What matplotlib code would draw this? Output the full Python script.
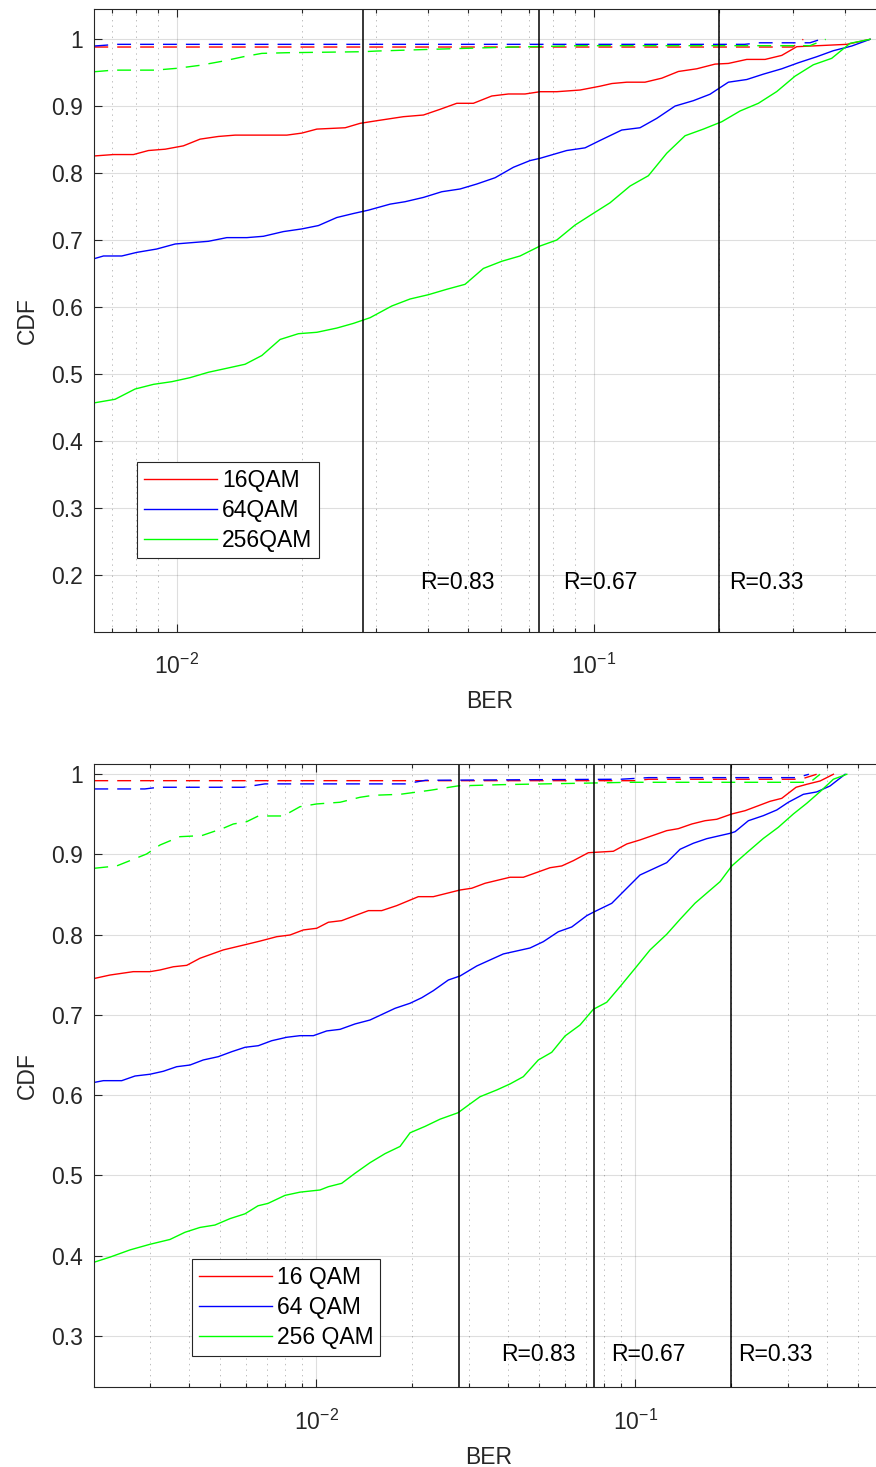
import matplotlib
matplotlib.use("Agg")
import matplotlib.pyplot as plt
from matplotlib.ticker import LogLocator, FuncFormatter, NullFormatter

plt.rcParams['font.family'] = ['Liberation Sans', 'DejaVu Sans']
plt.rcParams['mathtext.default'] = 'regular'
plt.rcParams['lines.scale_dashes'] = False

# ---------------- upper panel data ----------------
top_ber_16 = [0.00637, 0.00705, 0.00787, 0.00855, 0.00938, 0.01037, 0.01137, 0.01258, 0.0138, 0.01836,
              0.01994, 0.02167, 0.02534, 0.02752, 0.03017, 0.03494, 0.03903, 0.04279, 0.04693, 0.05144,
              0.05693, 0.06241, 0.06842, 0.07433, 0.08152, 0.0927, 0.1035, 0.1105, 0.1200, 0.1327,
              0.1456, 0.1596, 0.1766, 0.1954, 0.2103, 0.2328, 0.2576, 0.2824, 0.3068, 0.4044, 0.4599]
top_cdf_16 = [0.826, 0.828, 0.828, 0.834, 0.836, 0.841, 0.851, 0.855, 0.857, 0.857,
              0.860, 0.866, 0.868, 0.8746, 0.8785, 0.8845, 0.887, 0.8955, 0.9045, 0.9045,
              0.9154, 0.9184, 0.9184, 0.9218, 0.9218, 0.9243, 0.930, 0.934, 0.936, 0.936,
              0.942, 0.952, 0.956, 0.963, 0.964, 0.970, 0.970, 0.976, 0.989, 0.9925, 1.0]

top_ber_64 = [0.00637, 0.00667, 0.00738, 0.00802, 0.00895, 0.00991, 0.0119, 0.01318, 0.01472, 0.01613,
              0.01801, 0.01994, 0.02186, 0.02419, 0.02652, 0.02881, 0.03248, 0.03527, 0.03903, 0.04320,
              0.04779, 0.05241, 0.05799, 0.06416, 0.07033, 0.07433, 0.0861, 0.0953, 0.1035, 0.1167,
              0.1291, 0.1416, 0.1567, 0.1733, 0.1900, 0.2103, 0.2328, 0.2551, 0.2824, 0.3095,
              0.3426, 0.3755, 0.4156, 0.4599]
top_cdf_64 = [0.673, 0.6766, 0.6766, 0.682, 0.687, 0.6945, 0.6985, 0.704, 0.704, 0.706,
              0.713, 0.717, 0.722, 0.734, 0.740, 0.745, 0.754, 0.7576, 0.764, 0.7725,
              0.7766, 0.784, 0.7934, 0.809, 0.819, 0.8224, 0.834, 0.838, 0.849, 0.8646,
              0.868, 0.882, 0.9004, 0.9084, 0.918, 0.936, 0.940, 0.948, 0.956, 0.965,
              0.974, 0.983, 0.990, 1.0]

top_ber_256 = [0.00637, 0.00711, 0.00794, 0.00879, 0.00973, 0.01076, 0.01190, 0.01318, 0.01458, 0.01599,
               0.01769, 0.01957, 0.02167, 0.02419, 0.02652, 0.02908, 0.03279, 0.03626, 0.04012, 0.04441,
               0.04912, 0.05436, 0.06016, 0.06656, 0.07433, 0.08152, 0.0902, 0.0998, 0.1094, 0.1222,
               0.1352, 0.1496, 0.1656, 0.1832, 0.2028, 0.2243, 0.2482, 0.2747, 0.3039, 0.3362,
               0.3721, 0.4117, 0.4599]
top_cdf_256 = [0.4576, 0.4627, 0.478, 0.485, 0.489, 0.495, 0.503, 0.509, 0.515, 0.528,
               0.552, 0.5606, 0.5627, 0.569, 0.576, 0.5845, 0.602, 0.6124, 0.6188, 0.6269,
               0.6343, 0.658, 0.6687, 0.6766, 0.6915, 0.7004, 0.7228, 0.7403, 0.756, 0.781,
               0.7964, 0.8299, 0.8561, 0.866, 0.877, 0.893, 0.9045, 0.922, 0.945, 0.962,
               0.9716, 0.994, 1.0]

top_ber_16_d = [0.00634, 0.300, 0.318]
top_cdf_16_d = [0.9885, 0.9885, 1.0]
top_ber_64_d = [0.00634, 0.0072, 0.23, 0.25, 0.33, 0.35]
top_cdf_64_d = [0.990, 0.9925, 0.9925, 0.9948, 0.9948, 1.0]
top_ber_256_d = [0.00634, 0.00705, 0.00887, 0.0100, 0.01137, 0.01294, 0.01444, 0.01599, 0.01836, 0.02803,
                 0.03017, 0.0405, 0.0596, 0.0927, 0.33, 0.36]
top_cdf_256_d = [0.9516, 0.954, 0.954, 0.9567, 0.9612, 0.9676, 0.974, 0.979, 0.980, 0.9815,
                 0.9825, 0.985, 0.988, 0.9905, 0.9905, 1.0]

# ---------------- lower panel data ----------------
bot_ber_16 = [0.002024, 0.002256, 0.002668, 0.003010, 0.003236, 0.003562, 0.003925, 0.004318, 0.005109, 0.006052,
              0.006659, 0.007515, 0.008271, 0.009104, 0.01003, 0.01091, 0.01201, 0.01339, 0.01457, 0.01603,
              0.01786, 0.02088, 0.02327, 0.02821, 0.03070, 0.03380, 0.04047, 0.04456, 0.05402, 0.05878,
              0.06394, 0.07123, 0.08531, 0.0940, 0.1034, 0.1254, 0.1364, 0.1503, 0.1654, 0.1800,
              0.2006, 0.2208, 0.2430, 0.2644, 0.2877, 0.3190, 0.3446, 0.3793, 0.4176]
bot_cdf_16 = [0.7456, 0.7497, 0.7539, 0.7539, 0.756, 0.760, 0.7618, 0.7706, 0.781, 0.788,
              0.792, 0.7975, 0.7996, 0.8059, 0.808, 0.8155, 0.8175, 0.8246, 0.830, 0.830,
              0.8362, 0.8474, 0.8474, 0.8557, 0.8579, 0.8641, 0.8716, 0.8716, 0.8835, 0.8857,
              0.8923, 0.9022, 0.904, 0.9131, 0.9181, 0.9297, 0.9322, 0.938, 0.9421, 0.9439,
              0.9505, 0.9546, 0.9608, 0.9663, 0.970, 0.9838, 0.9875, 0.9916, 1.0]

bot_ber_64 = [0.002024, 0.002150, 0.002455, 0.002702, 0.003010, 0.003314, 0.003650, 0.004018, 0.004422, 0.004928,
              0.005429, 0.005977, 0.006580, 0.007246, 0.008077, 0.008890, 0.00979, 0.01078, 0.01187, 0.01322,
              0.01473, 0.01765, 0.01967, 0.02140, 0.02327, 0.02593, 0.02821, 0.03184, 0.03504, 0.03857,
              0.04248, 0.04675, 0.05147, 0.05736, 0.06319, 0.07041, 0.07385, 0.08433, 0.08954, 0.0928,
              0.1034, 0.1254, 0.1381, 0.1520, 0.1674, 0.1982, 0.2054, 0.2261, 0.2519, 0.2776,
              0.3017, 0.3362, 0.3704, 0.4076, 0.4544]
bot_cdf_64 = [0.616, 0.618, 0.618, 0.6238, 0.626, 0.6297, 0.6354, 0.6375, 0.6438, 0.6479,
              0.6541, 0.6596, 0.6616, 0.6678, 0.6721, 0.6741, 0.6741, 0.680, 0.682, 0.6887,
              0.6936, 0.7082, 0.7145, 0.7214, 0.7302, 0.7435, 0.7485, 0.761, 0.7685, 0.776,
              0.7797, 0.7834, 0.7913, 0.8037, 0.8096, 0.8237, 0.828, 0.8391, 0.8495, 0.8557,
              0.8744, 0.8898, 0.9065, 0.914, 0.9197, 0.9264, 0.9284, 0.9421, 0.9484, 0.9555,
              0.9651, 0.975, 0.978, 0.9854, 1.0]

bot_ber_256 = [0.002024, 0.002256, 0.002606, 0.003010, 0.003477, 0.003877, 0.004318, 0.004811, 0.005364, 0.005977,
               0.006565, 0.007058, 0.007978, 0.00889, 0.01027, 0.01091, 0.01201, 0.01322, 0.01473, 0.01642,
               0.01830, 0.01967, 0.02192, 0.02443, 0.02781, 0.03033, 0.03260, 0.03678, 0.04047, 0.04456,
               0.04965, 0.05470, 0.06020, 0.06708, 0.07385, 0.08133, 0.08954, 0.0998, 0.1112, 0.1254,
               0.1381, 0.1538, 0.1694, 0.1843, 0.2006, 0.2235, 0.2519, 0.2807, 0.3128, 0.3446,
               0.3793, 0.4176, 0.4600]
bot_cdf_256 = [0.392, 0.398, 0.407, 0.414, 0.420, 0.429, 0.435, 0.438, 0.446, 0.452,
               0.462, 0.465, 0.475, 0.479, 0.4817, 0.4858, 0.490, 0.5025, 0.5157, 0.527,
               0.536, 0.553, 0.561, 0.570, 0.578, 0.589, 0.598, 0.6064, 0.6139, 0.623,
               0.6438, 0.6534, 0.6737, 0.6874, 0.707, 0.7157, 0.7352, 0.758, 0.781, 0.8005,
               0.8192, 0.8392, 0.8536, 0.8661, 0.8857, 0.9022, 0.920, 0.9339, 0.9505, 0.9638,
               0.9783, 0.9938, 1.0]

bot_ber_16_d = [0.002014, 0.1, 0.11, 0.33, 0.37]
bot_cdf_16_d = [0.992, 0.992, 0.9938, 0.9938, 1.0]
bot_ber_64_d = [0.002014, 0.0029, 0.0032, 0.0059, 0.0069, 0.019, 0.022, 0.09, 0.11, 0.32, 0.35]
bot_cdf_64_d = [0.9817, 0.9817, 0.9838, 0.9838, 0.988, 0.988, 0.9925, 0.9938, 0.9958, 0.9958, 1.0]
bot_ber_256_d = [0.002014, 0.002367, 0.002938, 0.003236, 0.003738, 0.004373, 0.005109, 0.005493, 0.006052, 0.00658,
                 0.007882, 0.00889, 0.01003, 0.01187, 0.01371, 0.01509, 0.0183, 0.02272, 0.02781, 0.03767,
                 0.06708, 0.0963, 0.3529, 0.3793]
bot_cdf_256_d = [0.8828, 0.8857, 0.9006, 0.9118, 0.9222, 0.9235, 0.9327, 0.938, 0.9409, 0.948,
                 0.948, 0.9596, 0.963, 0.9651, 0.9713, 0.9738, 0.975, 0.980, 0.9855, 0.987,
                 0.9888, 0.990, 0.990, 1.0]

# code-rate thresholds
rate_ber = [0.028, 0.074, 0.2]
rate_labels = ['R=0.83', 'R=0.67', 'R=0.33']

top_labels = ['16QAM', '64QAM', '256QAM']
bot_labels = ['16 QAM', '64 QAM', '256 QAM']
colors = ['#ff0000', '#0000ff', '#00ff00']

FS = 16.5
TXT = '#262626'
LW = 1.0
DASH = (10, 6.5)

fig = plt.figure(figsize=(8.76, 14.67), dpi=100)
ax1 = fig.add_axes([94.3 / 876, 1 - 631.7 / 1467, (885.2 - 94.3) / 876, (631.7 - 9.3) / 1467])
ax2 = fig.add_axes([94.3 / 876, 1 - 1387.3 / 1467, (883.6 - 94.3) / 876, (1387.3 - 764) / 1467])


def style(ax, xlim, ylim, yticks):
    ax.set_xscale('log')
    ax.set_xlim(*xlim)
    ax.set_ylim(*ylim)
    ax.set_yticks(yticks)
    ax.yaxis.set_major_formatter(FuncFormatter(lambda v, p: '%g' % round(v, 2)))
    ax.xaxis.set_major_locator(LogLocator(base=10, numticks=10))
    ax.xaxis.set_minor_locator(LogLocator(base=10, subs=range(2, 10), numticks=20))
    ax.xaxis.set_minor_formatter(NullFormatter())
    ax.tick_params(which='both', direction='in', top=True, right=True, colors=TXT,
                   labelsize=FS, labelcolor=TXT, width=0.8)
    ax.tick_params(which='major', length=5.8)
    ax.tick_params(which='minor', length=2.9)
    ax.tick_params(axis='x', which='major', pad=16)
    ax.tick_params(axis='y', which='major', pad=8)
    ax.grid(True, which='major', color='#262626', alpha=0.15, linewidth=0.8, linestyle='-')
    ax.grid(True, which='minor', axis='x', color='#262626', alpha=0.3, linewidth=0.7, linestyle=(0, (1, 3)))
    ax.set_axisbelow(True)
    for s in ax.spines.values():
        s.set_color(TXT)
        s.set_linewidth(0.8)
    ax.set_xlabel('BER', fontsize=FS, color=TXT, labelpad=8)
    ax.set_ylabel('CDF', fontsize=FS, color=TXT, labelpad=9)


def draw(ax, solid, dashed, labels, loc_anchor, text_y, text_x):
    handles = []
    for (b, c), col, lab in zip(solid, colors, labels):
        h, = ax.plot(b, c, color=col, lw=LW, label=lab)
        handles.append(h)
    for (b, c), col in zip(dashed, colors):
        ax.plot(b, c, color=col, lw=LW, linestyle=(0, DASH))
    for rb in rate_ber:
        ax.axvline(rb, color='black', lw=1.1)
    for tx, lab in zip(text_x, rate_labels):
        ax.text(tx, text_y, lab, fontsize=FS, color='black', ha='left', va='center')
    leg = ax.legend(handles=handles, loc='upper left', bbox_to_anchor=loc_anchor,
                    borderaxespad=0, fontsize=FS, frameon=True, fancybox=False,
                    framealpha=1, edgecolor=TXT, handlelength=3.2, handletextpad=0.2,
                    labelspacing=0.3, borderpad=0.3)
    leg.get_frame().set_linewidth(0.8)


style(ax1, (0.00634, 0.5), (0.1158, 1.0448), [0.2, 0.3, 0.4, 0.5, 0.6, 0.7, 0.8, 0.9, 1.0])
draw(ax1,
     [(top_ber_16, top_cdf_16), (top_ber_64, top_cdf_64), (top_ber_256, top_cdf_256)],
     [(top_ber_16_d, top_cdf_16_d), (top_ber_64_d, top_cdf_64_d), (top_ber_256_d, top_cdf_256_d)],
     top_labels, (0.054, 0.2727), 0.1885, [0.0383, 0.0845, 0.211])

style(ax2, (0.002014, 0.6), (0.2357, 1.0128), [0.3, 0.4, 0.5, 0.6, 0.7, 0.8, 0.9, 1.0])
draw(ax2,
     [(bot_ber_16, bot_cdf_16), (bot_ber_64, bot_cdf_64), (bot_ber_256, bot_cdf_256)],
     [(bot_ber_16_d, bot_cdf_16_d), (bot_ber_64_d, bot_cdf_64_d), (bot_ber_256_d, bot_cdf_256_d)],
     bot_labels, (0.1238, 0.2058), 0.277, [0.0379, 0.0839, 0.21])

fig.savefig('out.png', dpi=100, facecolor='white')
